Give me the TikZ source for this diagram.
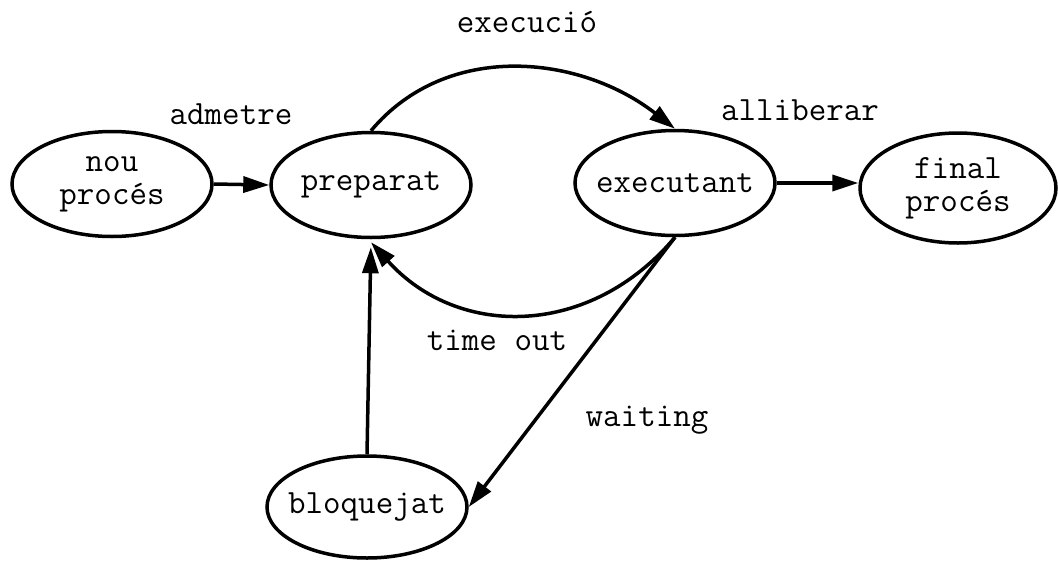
\documentclass[tikz,border=0pt]{standalone}
\usetikzlibrary{shapes.geometric,arrows.meta}
\begin{document}
\begin{tikzpicture}[x=1pt,y=1pt,
  state/.style={ellipse,draw,line width=3.5pt,minimum width=200pt,minimum height=105pt,
    inner xsep=-11pt,inner ysep=0pt,align=center,font=\fontsize{34}{33}\selectfont\ttfamily},
  lbl/.style={font=\fontsize{34}{30}\selectfont\ttfamily,inner sep=0pt},
  edge/.style={line width=3.5pt,-{Triangle[length=26pt,width=16pt]}}]
\useasboundingbox (0,0) rectangle (1058,-560);
\node[state] (nou)   at (112,-184) {nou\\procés};
\node[state] (prep)  at (371,-185) {preparat};
\node[state] (exec)  at (675,-183) {executant};
\node[state,minimum width=196pt,minimum height=110pt] (fin) at (958,-188) {final\\procés};
\node[state,minimum height=102pt] (bloq) at (367,-507) {bloquejat};

\node[lbl] at (527,-22)  {execució};
\node[lbl] at (231,-114) {admetre};
\node[lbl] at (800,-110) {alliberar};
\node[lbl] at (497,-340) {time out};
\node[lbl] at (647,-420) {waiting};

\draw[edge] (nou.east) -- (prep.west);
\draw[edge] (exec.east) -- (exec.east -| fin.west);
\draw[edge] (prep.north) to[out=50,in=142,looseness=1.0] (exec.north);
\draw[edge] (exec.south) to[out=-130,in=-48,looseness=1.1] ([yshift=-3pt]prep.south);
\draw[edge] (exec.south) -- (bloq.east);
\draw[edge,shorten >=8pt] (bloq.north) -- (prep.south);
\end{tikzpicture}
\end{document}
